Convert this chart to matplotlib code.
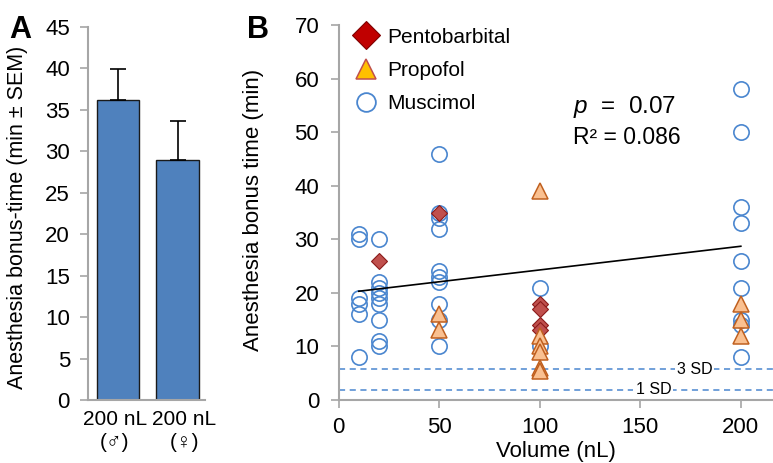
import matplotlib
matplotlib.use("Agg")
import matplotlib.pyplot as plt
import matplotlib.transforms as mtransforms
from matplotlib.lines import Line2D
import numpy as np

plt.rcParams['font.family'] = ['Liberation Sans', 'DejaVu Sans']
plt.rcParams['mathtext.fontset'] = 'custom'
plt.rcParams['mathtext.it'] = 'Liberation Sans:italic'
plt.rcParams['mathtext.rm'] = 'Liberation Sans'

# ---- Panel A data ----
bar_labels = ["200 nL\n(\u2642)", "200 nL\n(\u2640)"]
bar_means = [36.2, 29.0]
bar_sem = [3.7, 4.7]
a_yticks = [0, 5, 10, 15, 20, 25, 30, 35, 40, 45]

# ---- Panel B data ----
musc_x = [10, 10, 10, 10, 10, 10,
          20, 20, 20, 20, 20, 20, 20, 20, 20,
          50, 50, 50, 50, 50, 50, 50, 50, 50, 50,
          100, 100,
          200, 200, 200, 200, 200, 200, 200, 200, 200]
musc_y = [31, 30, 19, 18, 16, 8,
          30, 22, 21, 20, 19, 18, 15, 11, 10,
          46, 35, 34, 32, 24, 23, 22, 18, 15, 10,
          21, 10,
          58, 50, 36, 33, 26, 21, 15, 14, 8]
pento_x = [20, 50, 100, 100, 100, 100]
pento_y = [26, 35, 18, 17, 14, 13]
prop_x = [50, 50, 100, 100, 100, 100, 100, 100, 200, 200, 200]
prop_y = [16, 13, 39, 12, 10, 9, 6, 5.5, 18, 15, 12]
fit_intercept = 19.86
fit_slope = 0.0442
fit_range = [10, 200]
sd3 = 5.7
sd1 = 1.9
b_xticks = [0, 50, 100, 150, 200]
b_yticks = [0, 10, 20, 30, 40, 50, 60, 70]

grey = '#a6a6a6'
blue = '#4a86cf'
FS = 16

fig = plt.figure(figsize=(7.73, 4.63), dpi=100)

# ---------- Panel A ----------
axA = fig.add_axes([88/773, 1-400/463, 117/773, 373/463])
xpos = np.arange(len(bar_means))
axA.bar(xpos, bar_means, width=0.71, color='#4f81bd', edgecolor='#1a1a1a', linewidth=1.0, zorder=2)
axA.errorbar(xpos, bar_means, yerr=[[0, 0], bar_sem], fmt='none', ecolor='black',
             elinewidth=1.2, capsize=6, capthick=1.2, zorder=3)
axA.set_xlim(-0.5, 1.46)
axA.set_ylim(0, 45)
axA.set_yticks(a_yticks)
axA.set_xticks(xpos)
axA.set_xticklabels(bar_labels, fontsize=15, linespacing=1.3)
axA.tick_params(axis='x', length=0, pad=7)
axA.tick_params(axis='y', length=6, width=1.2, color=grey, labelsize=FS, pad=7)
# small horizontal offsets of the category labels, as in the original
for lbl, dx in zip(axA.get_xticklabels(), [-3, 7]):
    lbl.set_transform(lbl.get_transform() +
                      mtransforms.ScaledTranslation(dx / 100, 0, fig.dpi_scale_trans))
for s in ['top', 'right']:
    axA.spines[s].set_visible(False)
for s in ['left', 'bottom']:
    axA.spines[s].set_color(grey)
    axA.spines[s].set_linewidth(1.5)
axA.set_ylabel("Anesthesia bonus-time (min \u00b1 SEM)", fontsize=15.5)
axA.yaxis.set_label_coords(-0.515, 0.49)

# ---------- Panel B ----------
axB = fig.add_axes([338.7/773, 1-400/463, (773-338.7)/773, 375/463])
axB.set_xlim(0, 216)
axB.set_ylim(0, 70)

dash_kw = dict(color=blue, linewidth=1.1, linestyle=(0, (4, 3)), zorder=1)
axB.axhline(sd3, **dash_kw)
axB.axhline(sd1, **dash_kw)
axB.text(177, sd3, "3 SD", fontsize=11.5, ha='center', va='center',
         bbox=dict(facecolor='white', edgecolor='none', pad=1.5), zorder=2)
axB.text(156.5, sd1, "1 SD", fontsize=11.5, ha='center', va='center',
         bbox=dict(facecolor='white', edgecolor='none', pad=1.5), zorder=2)

axB.plot(musc_x, musc_y, linestyle='none', marker='o', markersize=11,
         markerfacecolor='none', markeredgecolor=blue, markeredgewidth=1.2, zorder=3)
axB.plot(pento_x, pento_y, linestyle='none', marker='D', markersize=8,
         markerfacecolor='#c0504d', markeredgecolor='#8b1a1a', markeredgewidth=0.8, zorder=4)
axB.plot(prop_x, prop_y, linestyle='none', marker='^', markersize=11,
         markerfacecolor='#fac090', markeredgecolor='#c0601f', markeredgewidth=1.1, zorder=5)

fx = np.array(fit_range)
axB.plot(fx, fit_intercept + fit_slope * fx, color='black', linewidth=1.2, zorder=6)

axB.text(116.6, 53.6, "$\\mathit{p}$  =  0.07", fontsize=17.5, ha='left', va='baseline')
axB.text(116.6, 47.8, "R\u00b2 = 0.086", fontsize=16.5, ha='left', va='baseline')

axB.set_xticks(b_xticks)
axB.set_yticks(b_yticks)
axB.tick_params(axis='both', length=6, width=1.2, color=grey, labelsize=FS)
axB.tick_params(axis='y', pad=8)
axB.tick_params(axis='x', pad=6)
for s in ['top', 'right']:
    axB.spines[s].set_visible(False)
for s in ['left', 'bottom']:
    axB.spines[s].set_color(grey)
    axB.spines[s].set_linewidth(1.5)
axB.set_xlabel("Volume (nL)", fontsize=FS)
axB.xaxis.set_label_coords(0.5, -0.108)
axB.set_ylabel("Anesthesia bonus time (min)", fontsize=FS)
axB.yaxis.set_label_coords(-0.172, 0.507)

handles = [
    Line2D([], [], linestyle='none', marker='D', markersize=14,
           markerfacecolor='#c00000', markeredgecolor='#7f0000', markeredgewidth=0.8),
    Line2D([], [], linestyle='none', marker='^', markersize=14,
           markerfacecolor='#ffc000', markeredgecolor='#c0504d', markeredgewidth=1.1),
    Line2D([], [], linestyle='none', marker='o', markersize=13.5,
           markerfacecolor='none', markeredgecolor=blue, markeredgewidth=1.3),
]
axB.legend(handles, ["Pentobarbital", "Propofol", "Muscimol"], loc='upper left',
           bbox_to_anchor=(0.0, 1.032), frameon=False, fontsize=15,
           handlelength=1.2, handletextpad=0.45, labelspacing=0.69, borderaxespad=0.3)

fig.text(9/773, 1-15/463, "A", fontsize=22, fontweight='bold', ha='left', va='top')
fig.text(247/773, 1-15/463, "B", fontsize=22, fontweight='bold', ha='left', va='top')

fig.savefig("out.png", dpi=100)
